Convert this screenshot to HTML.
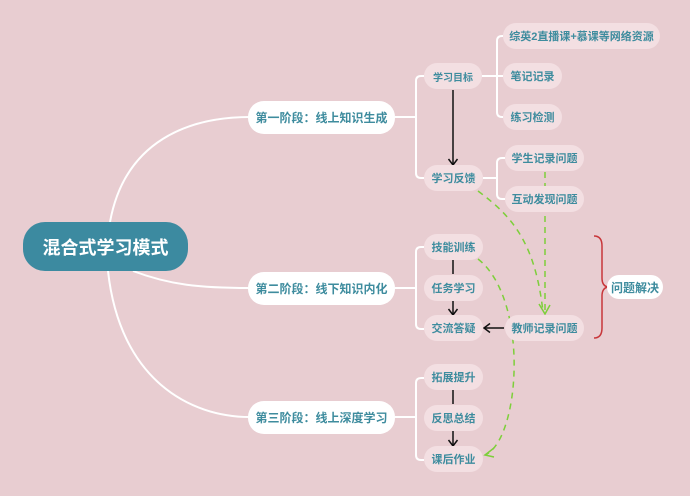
<!DOCTYPE html>
<html><head><meta charset="utf-8"><style>
body{margin:0;width:690px;height:496px;background:#e8cdd1;overflow:hidden;font-family:"Liberation Sans","Noto Sans CJK SC",sans-serif}
svg{position:absolute;left:0;top:0}
.n{position:absolute;display:flex;align-items:center;justify-content:center;font-weight:bold;color:#3e8c9e;white-space:nowrap}
.p{background:#f3dfe2;border-radius:13px;font-size:11px;height:26px}
.w{background:#fff;border-radius:16px;font-size:12px;height:33px}
</style></head><body>
<svg width="690" height="496">
<defs>
<marker id="ab" markerWidth="12" markerHeight="12" refX="9" refY="6" orient="auto" markerUnits="userSpaceOnUse"><path d="M3,1.5 L9,6 L3,10.5" fill="none" stroke="#111" stroke-width="1.5"/></marker>
</defs>
<g fill="none" stroke="#fff" stroke-width="2">
<path d="M110,222 C125,140 190,117 250,117"/>
<path d="M133,271 C170,285 200,288 250,288"/>
<path d="M108,271 C120,380 190,417 250,417"/>
<path d="M395,117 H416 M424,76 H421 Q416,76 416,81 V173 Q416,178 421,178 H424"/>
<path d="M395,288 H416 M424,247 H421 Q416,247 416,252 V324 Q416,329 421,329 H424"/>
<path d="M395,417 H416 M424,378 H421 Q416,378 416,383 V455 Q416,460 421,460 H424"/>
<path d="M482,76 H497 M503,36 H502 Q497,36 497,41 V112 Q497,117 502,117 H503 M497,76 H503"/>
<path d="M483,178 H497 M505,158 H502 Q497,158 497,163 V194 Q497,199 502,199 H505"/>
</g>
<g stroke="#111" stroke-width="1.5" fill="none">
<path d="M453,90 V165" marker-end="url(#ab)"/>
<path d="M453,260 V274"/>
<path d="M453,301 V315" marker-end="url(#ab)"/>
<path d="M504,328 H484" marker-end="url(#ab)"/>
<path d="M453,390 V404"/>
<path d="M453,431 V446" marker-end="url(#ab)"/>
</g>
<g stroke="#7dcf3a" stroke-width="1.5" fill="none" stroke-dasharray="6,5">
<path d="M478,191 C510,215 535,240 543,312"/>
<path d="M545,172 V312"/>
<path d="M478,259 C530,300 520,440 485,455"/>
</g>
<g stroke="#7dcf3a" stroke-width="1.5" fill="none">
<path d="M539,304 L545,314 L550,305"/>
<path d="M494,448 L485,455 L494,457"/>
</g>
<path d="M594,236 Q602,236 602,246 V278 Q602,286 608,287 Q602,288 602,296 V328 Q602,338 594,338" fill="none" stroke="#c8363a" stroke-width="1.5"/>
</svg>
<div class="n" style="left:23px;top:222px;width:165px;height:49px;background:#3c8aa0;border-radius:22px;color:#fff;font-size:18px">混合式学习模式</div>
<div class="n w" style="left:248px;top:101px;width:147px">第一阶段：线上知识生成</div>
<div class="n w" style="left:248px;top:272px;width:147px">第二阶段：线下知识内化</div>
<div class="n w" style="left:248px;top:401px;width:147px">第三阶段：线上深度学习</div>
<div class="n p" style="left:424px;top:63px;width:58px;font-size:10px">学习目标</div>
<div class="n p" style="left:424px;top:165px;width:59px">学习反馈</div>
<div class="n p" style="left:503px;top:23px;width:157px">综英2直播课+慕课等网络资源</div>
<div class="n p" style="left:503px;top:63px;width:59px">笔记记录</div>
<div class="n p" style="left:503px;top:104px;width:59px">练习检测</div>
<div class="n p" style="left:505px;top:145px;width:79px">学生记录问题</div>
<div class="n p" style="left:505px;top:186px;width:79px">互动发现问题</div>
<div class="n p" style="left:424px;top:234px;width:59px">技能训练</div>
<div class="n p" style="left:424px;top:275px;width:59px">任务学习</div>
<div class="n p" style="left:424px;top:315px;width:59px">交流答疑</div>
<div class="n p" style="left:505px;top:315px;width:79px">教师记录问题</div>
<div class="n" style="left:607px;top:275px;width:56px;height:24px;background:#fff;border-radius:12px;font-size:12px">问题解决</div>
<div class="n p" style="left:424px;top:364px;width:59px">拓展提升</div>
<div class="n p" style="left:424px;top:405px;width:59px">反思总结</div>
<div class="n p" style="left:424px;top:446px;width:59px">课后作业</div>
</body></html>
